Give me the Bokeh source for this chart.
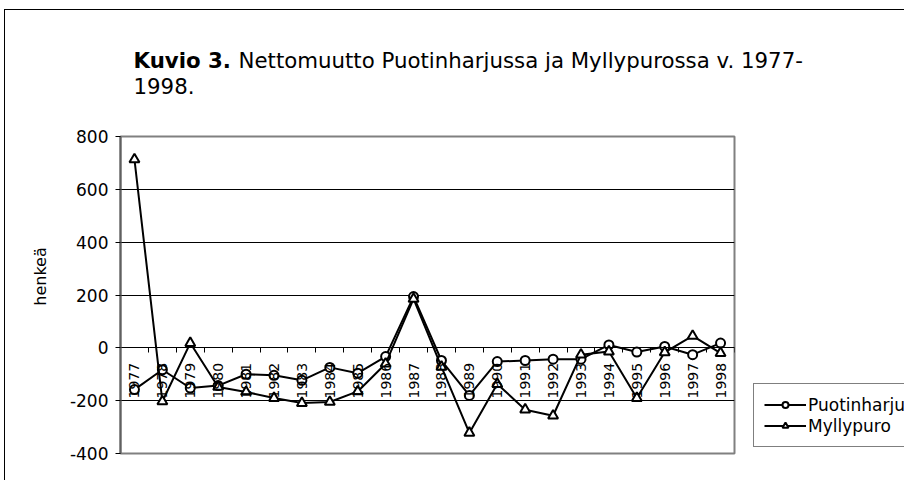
import math
from bokeh.plotting import figure
from bokeh.models import FixedTicker, Label, Legend, LegendItem
from bokeh.embed import file_html
from bokeh.resources import INLINE

years = ["1977", "1978", "1979", "1980", "1981", "1982", "1983", "1984", "1985", "1986", "1987",
         "1988", "1989", "1990", "1991", "1992", "1993", "1994", "1995", "1996", "1997", "1998"]
puotinharju = [-158, -83, -152, -143, -100, -104, -123, -74, -96, -33, 194,
               -48, -180, -52, -48, -43, -43, 11, -16, 5, -26, 18]
myllypuro = [713, -203, 18, -148, -167, -190, -209, -205, -165, -60, 185,
             -72, -322, -137, -234, -257, -26, -14, -190, -17, 45, -20]
y_ticks = [-400, -200, 0, 200, 400, 600, 800]
series_names = ["Puotinharju", "Myllypuro"]
title_bold = "Kuvio 3."
title_rest = "Nettomuutto Puotinharjussa ja Myllypurossa v. 1977-"
title_line2 = "1998."
y_label = "henkeä"

FONT = "DejaVu Sans"
TSIZE = "21.3px"
xs = list(range(len(years)))

p = figure(output_backend="svg", toolbar_location=None,
           frame_width=614, frame_height=317,
           min_border_left=115, min_border_right=150,
           min_border_top=126, min_border_bottom=27,
           x_range=(-0.5, len(years) - 0.5), y_range=(y_ticks[0], y_ticks[-1]))
p.styles = {"border-left": "1px solid black", "border-top": "1px solid black",
            "margin-left": "4px", "margin-top": "9px"}

p.background_fill_color = "white"
p.border_fill_color = "white"
p.outline_line_color = "#808080"
p.outline_line_width = 2

# y axis
p.yaxis.ticker = FixedTicker(ticks=y_ticks)
p.yaxis.major_label_overrides = {v: str(v) for v in y_ticks}
p.yaxis.major_label_text_font = FONT
p.yaxis.major_label_text_font_size = "17px"
p.yaxis.major_label_text_color = "black"
p.yaxis.major_tick_out = 5
p.yaxis.major_tick_in = 0
p.yaxis.minor_tick_out = 0
p.yaxis.minor_tick_in = 0
p.yaxis.major_label_standoff = 7
p.yaxis.axis_line_color = "#606060"
p.yaxis.axis_line_width = 2
p.yaxis.major_tick_line_color = "black"

# x axis at y = 0
p.xaxis.fixed_location = 0
p.xaxis.ticker = FixedTicker(ticks=xs, minor_ticks=[i - 0.5 for i in range(len(years) + 1)])
p.xaxis.major_label_overrides = {i: y for i, y in enumerate(years)}
p.xaxis.major_label_orientation = math.pi / 2
p.xaxis.major_label_text_font = FONT
p.xaxis.major_label_text_font_size = "14px"
p.xaxis.major_label_text_color = "black"
p.xaxis.major_tick_out = 0
p.xaxis.major_tick_in = 0
p.xaxis.minor_tick_out = 5
p.xaxis.minor_tick_in = 0
p.xaxis.minor_tick_line_color = "black"
p.xaxis.axis_line_color = "black"
p.xaxis.axis_line_width = 1
p.xaxis.major_label_standoff = 10

p.xgrid.visible = False
p.ygrid.ticker = FixedTicker(ticks=y_ticks)
p.ygrid.grid_line_color = "black"
p.ygrid.grid_line_width = 1

r1l = p.line(xs, puotinharju, line_color="black", line_width=2)
r1m = p.scatter(xs, puotinharju, marker="circle", size=9, fill_color="white",
                line_color="black", line_width=2)
r2l = p.line(xs, myllypuro, line_color="black", line_width=2)
r2m = p.scatter(xs, myllypuro, marker="triangle", size=10, fill_color="white",
                line_color="black", line_width=2)

legend = Legend(items=[LegendItem(label=series_names[0], renderers=[r1l, r1m]),
                       LegendItem(label=series_names[1], renderers=[r2l, r2m])],
                location=(19, 6))
legend.border_line_color = "black"
legend.border_line_width = 1
legend.background_fill_color = "white"
legend.background_fill_alpha = 1
legend.label_text_font = FONT
legend.label_text_font_size = "17px"
legend.label_text_color = "black"
legend.glyph_width = 42
legend.glyph_height = 15
legend.label_height = 21
legend.label_standoff = 2
legend.spacing = 0
legend.padding = 10
legend.margin = 0
p.add_layout(legend, "right")

# title (two lines, first starts with a bold part); each label stacks in the "above" panel
p.add_layout(Label(x=13, y=76, x_units="screen", y_units="screen", text=title_bold,
                   text_font=FONT, text_font_size=TSIZE, text_font_style="bold",
                   text_baseline="middle", text_align="left", text_color="black"), "above")
p.add_layout(Label(x=118, y=51, x_units="screen", y_units="screen", text=title_rest,
                   text_font=FONT, text_font_size=TSIZE,
                   text_baseline="middle", text_align="left", text_color="black"), "above")
p.add_layout(Label(x=13, y=1, x_units="screen", y_units="screen", text=title_line2,
                   text_font=FONT, text_font_size=TSIZE,
                   text_baseline="middle", text_align="left", text_color="black"), "above")
# y axis label (left panel)
p.add_layout(Label(x=-7, y=177, x_units="screen", y_units="screen", text=y_label,
                   angle=math.pi / 2, text_font=FONT, text_font_size="16px",
                   text_baseline="middle", text_align="center", text_color="black"), "left")

open("out.html", "w").write(file_html(p, INLINE))
